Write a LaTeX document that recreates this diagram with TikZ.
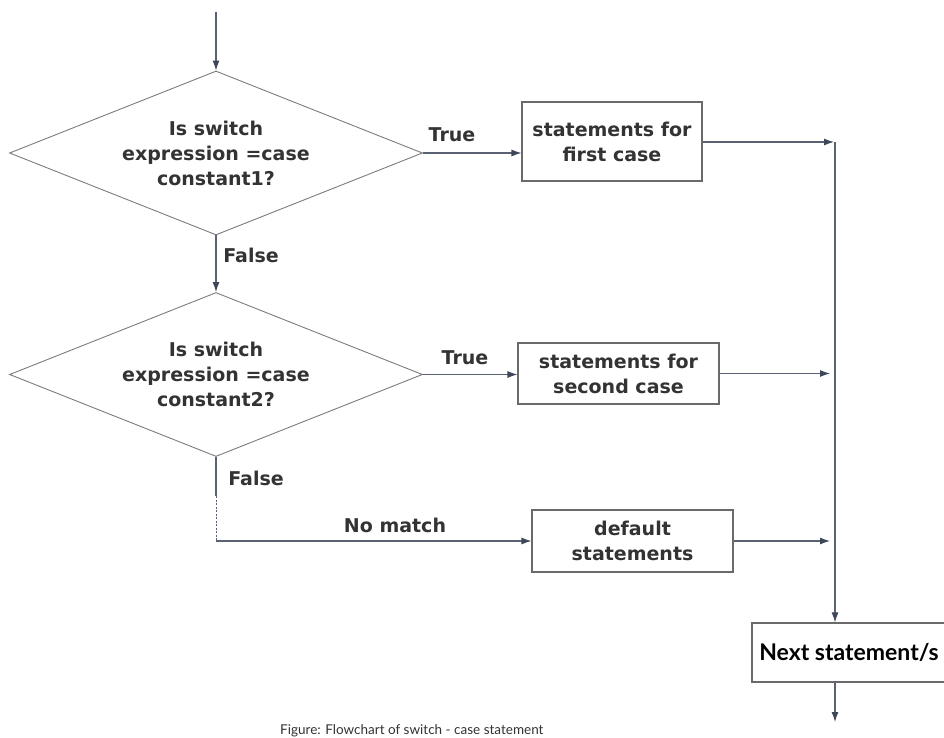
\documentclass[tikz,border=0pt]{standalone}
\usepackage{fontspec}
\setmainfont{DejaVu Sans}
\newfontfamily\nextfont{Lato}
\usetikzlibrary{shapes.geometric,arrows.meta}
\definecolor{linec}{HTML}{5A6172}
\definecolor{tipc}{HTML}{3E4759}
\definecolor{shapec}{HTML}{7C7C7C}
\definecolor{boxc}{HTML}{6A6A6A}
\definecolor{txtc}{HTML}{333333}
\tikzset{
  dia/.style={diamond, draw=shapec, line width=0.9pt, inner sep=0pt, shape aspect=2.518,
    minimum width=413pt, minimum height=164pt, align=center, text=txtc,
    font=\bfseries\fontsize{19}{25}\selectfont},
  stbox/.style={rectangle, draw=boxc, line width=1.1pt, inner sep=0pt,
    align=center, text=txtc, font=\bfseries\fontsize{19}{25}\selectfont},
  lbl/.style={text=txtc, font=\bfseries\fontsize{19}{25}\selectfont, inner sep=0pt},
  flow/.style={draw=linec, line width=1.1pt},
  arr/.style={flow, -{Latex[length=10pt,width=7pt,color=tipc]}},
}
\begin{document}
\begin{tikzpicture}[x=1pt,y=-1pt]
\useasboundingbox (0,0) rectangle (944,738);
\clip (0,0) rectangle (944,738);
\fill[white] (0,0) rectangle (944,738);

\coordinate (start) at (216,12);
\node[dia] (d1) at (216,153) {Is switch\\expression =case\\constant1?};
\node[dia] (d2) at (216,374.5) {Is switch\\expression =case\\constant2?};
\node[stbox, minimum width=180pt, minimum height=79pt] (b1) at (612,141.5) {statements for\\first case};
\node[stbox, minimum width=201pt, minimum height=61pt] (b2) at (618.5,373.5) {statements for\\second case};
\node[stbox, minimum width=201pt, minimum height=62pt] (b3) at (632.5,541) {default\\statements};
\node[rectangle, draw=boxc, line width=1.2pt, minimum width=194pt, minimum height=59pt,
  inner sep=0pt, text=black, font=\nextfont\bfseries\fontsize{23}{25}\selectfont] (nx) at (849,652.5) {Next statement/s};

\coordinate (v1) at (835,142);
\coordinate (sw) at (216,496);
\coordinate (c3) at (216,541);
\coordinate (end) at (835,722);

\draw[arr] (start) -- (d1.north);
\draw[arr] (d1.east) -- (d1.east -| b1.west);
\node[lbl] (t1) at (452,135) {True};
\draw[arr] (d1.south) -- (d2.north);
\node[lbl] (f1) at (251,255) {False};
\draw[arr] (d2.east) -- (d2.east -| b2.west);
\node[lbl] (t2) at (465,358) {True};
\node[lbl] (f2) at (256,478) {False};
\draw[flow] (d2.south) -- (sw);
\draw[flow, dashed, dash pattern=on 2pt off 1.5pt, line width=0.9pt] (sw) -- (c3);
\draw[arr] (c3) -- (b3.west);
\node[lbl] (nm) at (395,525) {No match};

\draw[arr, shorten >=1pt] (b1.east |- v1) -- (v1);
\draw[arr, shorten >=5pt] (b2.east) -- (b2.east -| v1);
\draw[arr, shorten >=5pt] (b3.east) -- (b3.east -| v1);
\draw[arr] (v1) -- (v1 |- nx.north);
\draw[arr] (v1 |- nx.south) -- (end);

\node[text=txtc, font=\nextfont\fontsize{13.5}{15}\selectfont, anchor=base west, inner sep=0pt] (cap) at (280,734) {Figure: Flowchart of switch - case statement};
\end{tikzpicture}
\end{document}
